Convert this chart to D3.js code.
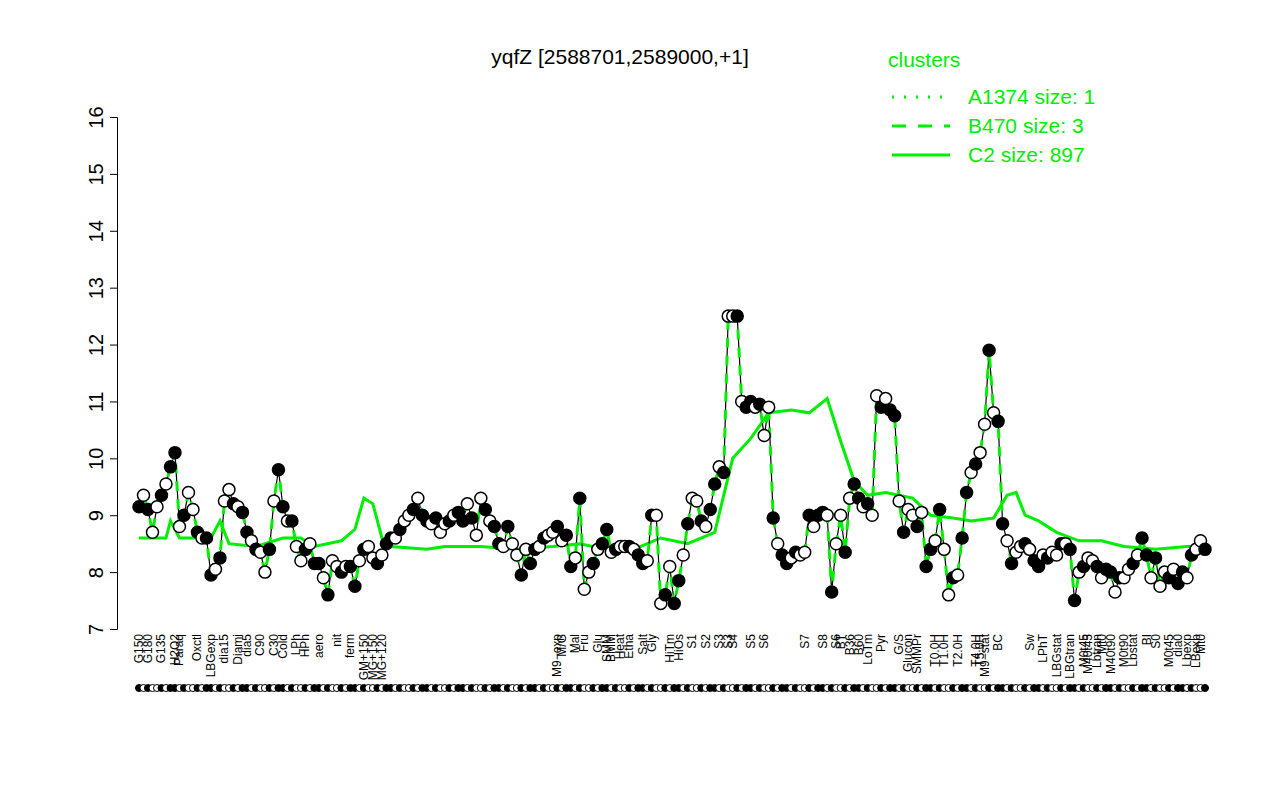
<!DOCTYPE html><html><head><meta charset="utf-8">
<script src="https://cdn.jsdelivr.net/npm/d3@7"></script>
<style>body{margin:0;background:#fff}text{font-family:"Liberation Sans",Arial,sans-serif}</style></head><body>
<svg id="c" width="1280" height="800"></svg>
<script>
const labels=["G150","","G180","","","G135","","","H2O2","Paraq","","","","Oxctl","","","LBGexp","","","dia15","","","Diami","","dia5","","","C90","","","C30","","Cold","","","LPh","","HPh","","","aero","","","","nit","","","ferm","","","GM+150","","MG+150","","MG+120","","","","","","","","","","","","","","","","","","","","","","","","","","","","","","","","","","","","","","","M9−exp","M/G","","","Mal","","Fru","","","Glu","","SMM","BMM","","Heat","","Etha","","","Salt","","Gly","","","","HiTm","","HiOs","","","S1","","","S2","","","S3","","S3","S4","","","","S5","","","S6","","","","","","","","","S7","","","","S8","","","S6","BT","","B36","","B60","","LoTm","","","Pyr","","","","G/S","","Glucon","","SMMPr","","","","T0.0H","","T1.0H","","","T2.0H","","","","T4.0H","T5.0H","M9−stat","","","BC","","","","","","","Sw","","","LPhT","","","LBGstat","","","LBGtran","","","M0t45","M40t45","","Lbtran","Mt0","","M40t90","","","M0t90","","Lbstat","","","BI","","S0","","","M0t45","","dia0","","Lbexp","","LBexp","Mt0"];
const values=[9.15,9.35,9.1,8.7,9.15,9.35,9.55,9.85,10.1,8.8,9.0,9.4,9.1,8.7,8.6,8.6,7.95,8.05,8.25,9.25,9.45,9.2,9.15,9.05,8.7,8.55,8.4,8.35,8.0,8.4,9.25,9.8,9.15,8.9,8.9,8.45,8.2,8.4,8.5,8.15,8.15,7.9,7.6,8.2,8.1,8.0,8.1,8.1,7.75,8.2,8.4,8.45,8.25,8.15,8.3,8.5,8.6,8.6,8.75,8.9,9.0,9.1,9.3,9.0,8.9,8.85,8.95,8.7,8.85,8.9,9.0,9.05,8.9,9.2,8.95,8.65,9.3,9.1,8.9,8.8,8.5,8.45,8.8,8.5,8.3,7.95,8.4,8.15,8.4,8.45,8.6,8.65,8.7,8.8,8.55,8.65,8.1,8.25,9.3,7.7,8.0,8.15,8.4,8.5,8.75,8.35,8.4,8.45,8.45,8.45,8.4,8.3,8.15,8.2,9.0,9.0,7.45,7.6,8.1,7.45,7.85,8.3,8.85,9.3,9.25,8.9,8.8,9.1,9.55,9.85,9.75,12.5,12.5,12.5,11.0,10.9,11.0,10.9,10.95,10.4,10.9,8.95,8.5,8.3,8.15,8.25,8.35,8.3,8.35,9.0,8.8,9.0,9.05,9.0,7.65,8.5,9.0,8.35,9.3,9.55,9.3,9.15,9.2,9.0,11.1,10.9,11.05,10.85,10.75,9.25,8.7,9.1,9.0,8.8,9.05,8.1,8.4,8.55,9.1,8.4,7.6,7.9,7.95,8.6,9.4,9.75,9.9,10.1,10.6,11.9,10.8,10.65,8.85,8.55,8.15,8.35,8.45,8.5,8.4,8.2,8.1,8.3,8.25,8.35,8.3,8.5,8.5,8.4,7.5,8.0,8.1,8.25,8.2,8.1,7.9,8.05,8.0,7.65,7.9,7.9,8.05,8.15,8.3,8.6,8.3,7.9,8.25,7.75,8.0,7.9,8.05,7.8,8.0,7.9,8.3,8.4,8.55,8.4];
const filled=values.map((v,i)=>[1,0,1,0,0,1,0,1][i%8]);
// C2 line: [point index, value]
const c2=[[0,8.6],[6,8.6],[7,8.9],[9,8.6],[12,8.6],[16,8.6],[18,8.9],[20,8.5],[26,8.45],[30,8.55],[32,8.6],[36,8.6],[39,8.45],[45,8.55],[48,8.75],[50,9.3],[52,9.2],[54,8.6],[56,8.45],[64,8.4],[68,8.45],[76,8.45],[84,8.4],[92,8.45],[98,8.5],[104,8.4],[110,8.4],[116,8.6],[122,8.5],[128,8.7],[132,10.0],[136,10.35],[140,10.8],[145,10.85],[149,10.8],[153,11.05],[156,10.3],[159,9.6],[162,9.35],[166,9.4],[172,9.3],[176,9.0],[181,8.95],[185,8.9],[190,8.95],[193,9.35],[195,9.4],[197,9.0],[200,8.9],[204,8.7],[209,8.55],[214,8.55],[219,8.45],[226,8.4],[233,8.45],[244,8.45]];
const yTicks=[7,8,9,10,11,12,13,14,15,16];
const svg=d3.select("#c");
const n=values.length-1;
const x=d3.scaleLinear().domain([0,n]).range([139,1205]);
const y=d3.scaleLinear().domain([7,16]).range([629,117]);
const G="#00ee00";
const c2d=c2.map(d=>[Math.min(d[0],n),d[1]]);
svg.append("g").attr("transform","translate(117,0)").call(d3.axisLeft(y).tickValues(yTicks).tickSize(7).tickFormat(d3.format("d")))
 .call(g=>{g.select(".domain").attr("stroke","#000");g.selectAll("text").attr("font-size",20).attr("transform","rotate(-90)").attr("x",0).attr("dx",0).attr("y",-20).attr("text-anchor","middle").attr("dominant-baseline","auto")});
svg.append("path").datum(c2d).attr("fill","none").attr("stroke",G).attr("stroke-width",3)
 .attr("d",d3.line().x(d=>x(d[0])).y(d=>y(d[1])));
svg.append("path").datum(values).attr("fill","none").attr("stroke","#000").attr("stroke-width",1.2)
 .attr("d",d3.line().x((d,i)=>x(i)).y(d=>y(d)));
svg.append("path").datum(values).attr("fill","none").attr("stroke",G).attr("stroke-width",3).attr("stroke-dasharray","10,8")
 .attr("d",d3.line().x((d,i)=>x(i)).y(d=>y(d)));
svg.selectAll("circle.p").data(values).join("circle").attr("cx",(d,i)=>x(i)).attr("cy",d=>y(d)).attr("r",6)
 .attr("fill",(d,i)=>filled[i]?"#000":"#fff").attr("stroke","#000").attr("stroke-width",1.5);
svg.selectAll("circle.r").data(values).join("circle").attr("cx",(d,i)=>x(i)).attr("cy",688).attr("r",3.5)
 .attr("fill",(d,i)=>filled[i]?"#000":"#fff").attr("stroke","#000").attr("stroke-width",1);
svg.selectAll("text.l").data(labels.slice(0,values.length)).join("text").attr("transform",(d,i)=>`translate(${x(i)+4},634) rotate(-90)`)
 .attr("font-size",12).attr("text-anchor","end").text(d=>d);
svg.append("text").attr("x",620).attr("y",64).attr("text-anchor","middle").attr("font-size",21).text("yqfZ [2588701,2589000,+1]");
const lg=svg.append("g");
lg.append("text").attr("x",888).attr("y",67).attr("fill",G).attr("font-size",21).text("clusters");
const items=[["A1374 size: 1","2,10"],["B470 size: 3","14,12"],["C2 size: 897",null]];
items.forEach((it,i)=>{const yy=96+i*29;
 lg.append("line").attr("x1",892).attr("x2",950).attr("y1",yy+1).attr("y2",yy+1).attr("stroke",G).attr("stroke-width",3).attr("stroke-dasharray",it[1]);
 lg.append("text").attr("x",968).attr("y",yy+8).attr("fill",G).attr("font-size",21).text(it[0]);});
</script></body></html>
